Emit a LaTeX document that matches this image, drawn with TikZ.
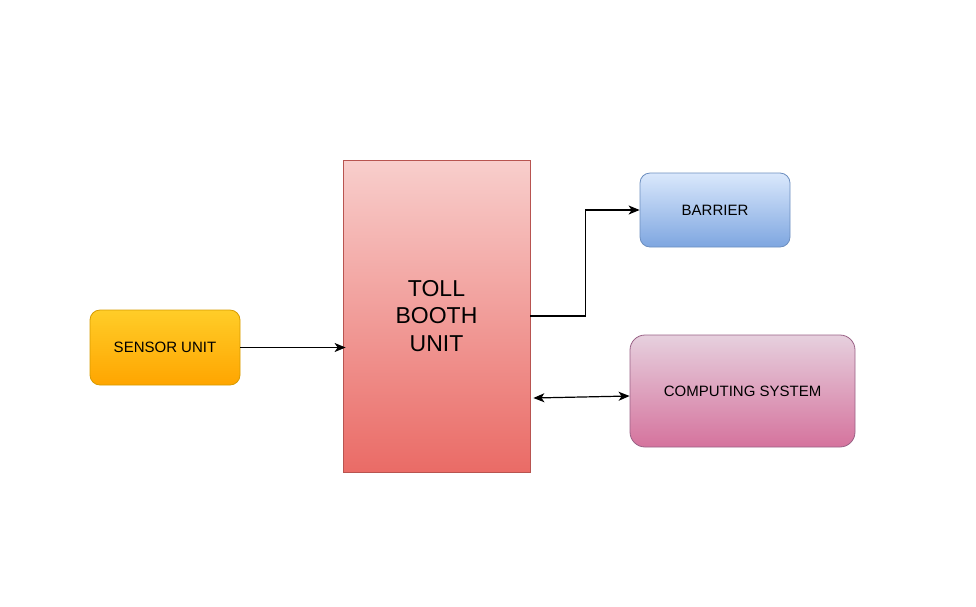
\documentclass[tikz,border=0pt]{standalone}
\usepackage{fontspec}
\setmainfont{Liberation Sans}
\usetikzlibrary{arrows.meta}

\definecolor{sensortop}{HTML}{FFCD28}
\definecolor{sensorbot}{HTML}{FFA500}
\definecolor{sensorline}{HTML}{D79B00}
\definecolor{tolltop}{HTML}{F8CECC}
\definecolor{tollbot}{HTML}{EA6B66}
\definecolor{tollline}{HTML}{B85450}
\definecolor{barriertop}{HTML}{DAE8FC}
\definecolor{barrierbot}{HTML}{7EA6E0}
\definecolor{barrierline}{HTML}{6C8EBF}
\definecolor{comptop}{HTML}{E6D0DE}
\definecolor{compbot}{HTML}{D5739D}
\definecolor{compline}{HTML}{996185}

\begin{document}
\begin{tikzpicture}[x=1pt, y=-1pt, >={Stealth[length=11pt,width=9pt,inset=3pt]},
    block/.style={draw, line width=0.8pt, text=black, align=center, font=\fontsize{15}{18}\selectfont},
    link/.style={draw=black, line width=1.2pt}]
    \useasboundingbox (0,0) rectangle (976,606); %
    \node[block, rounded corners=10pt, minimum width=150pt, minimum height=75pt, draw=sensorline, top color=sensortop, bottom color=sensorbot] (sensor) at (165,347.5) {SENSOR UNIT}; %
    \node[block, minimum width=187pt, minimum height=312pt, draw=tollline, top color=tolltop, bottom color=tollbot, font=\fontsize{23}{27.5}\selectfont] (toll) at (436.5,316) {TOLL\\BOOTH\\UNIT}; %
    \node[block, rounded corners=10pt, minimum width=150pt, minimum height=74pt, draw=barrierline, top color=barriertop, bottom color=barrierbot] (barrier) at (715,210) {BARRIER}; %
    \node[block, rounded corners=15pt, minimum width=225pt, minimum height=112pt, draw=compline, top color=comptop, bottom color=compbot] (comp) at (742.5,391) {COMPUTING SYSTEM}; %
    \draw[link, ->] (sensor.east) -- ([shift={(3,0)}]toll.west |- sensor.east); %
    \draw[link, ->] (toll.east) -- ++(55,0) |- (barrier.west); %
    \draw[link, <->] ([shift={(3,7)}]toll.east |- comp.west) -- ([shift={(0,5)}]comp.west); %
\end{tikzpicture}
\end{document}
